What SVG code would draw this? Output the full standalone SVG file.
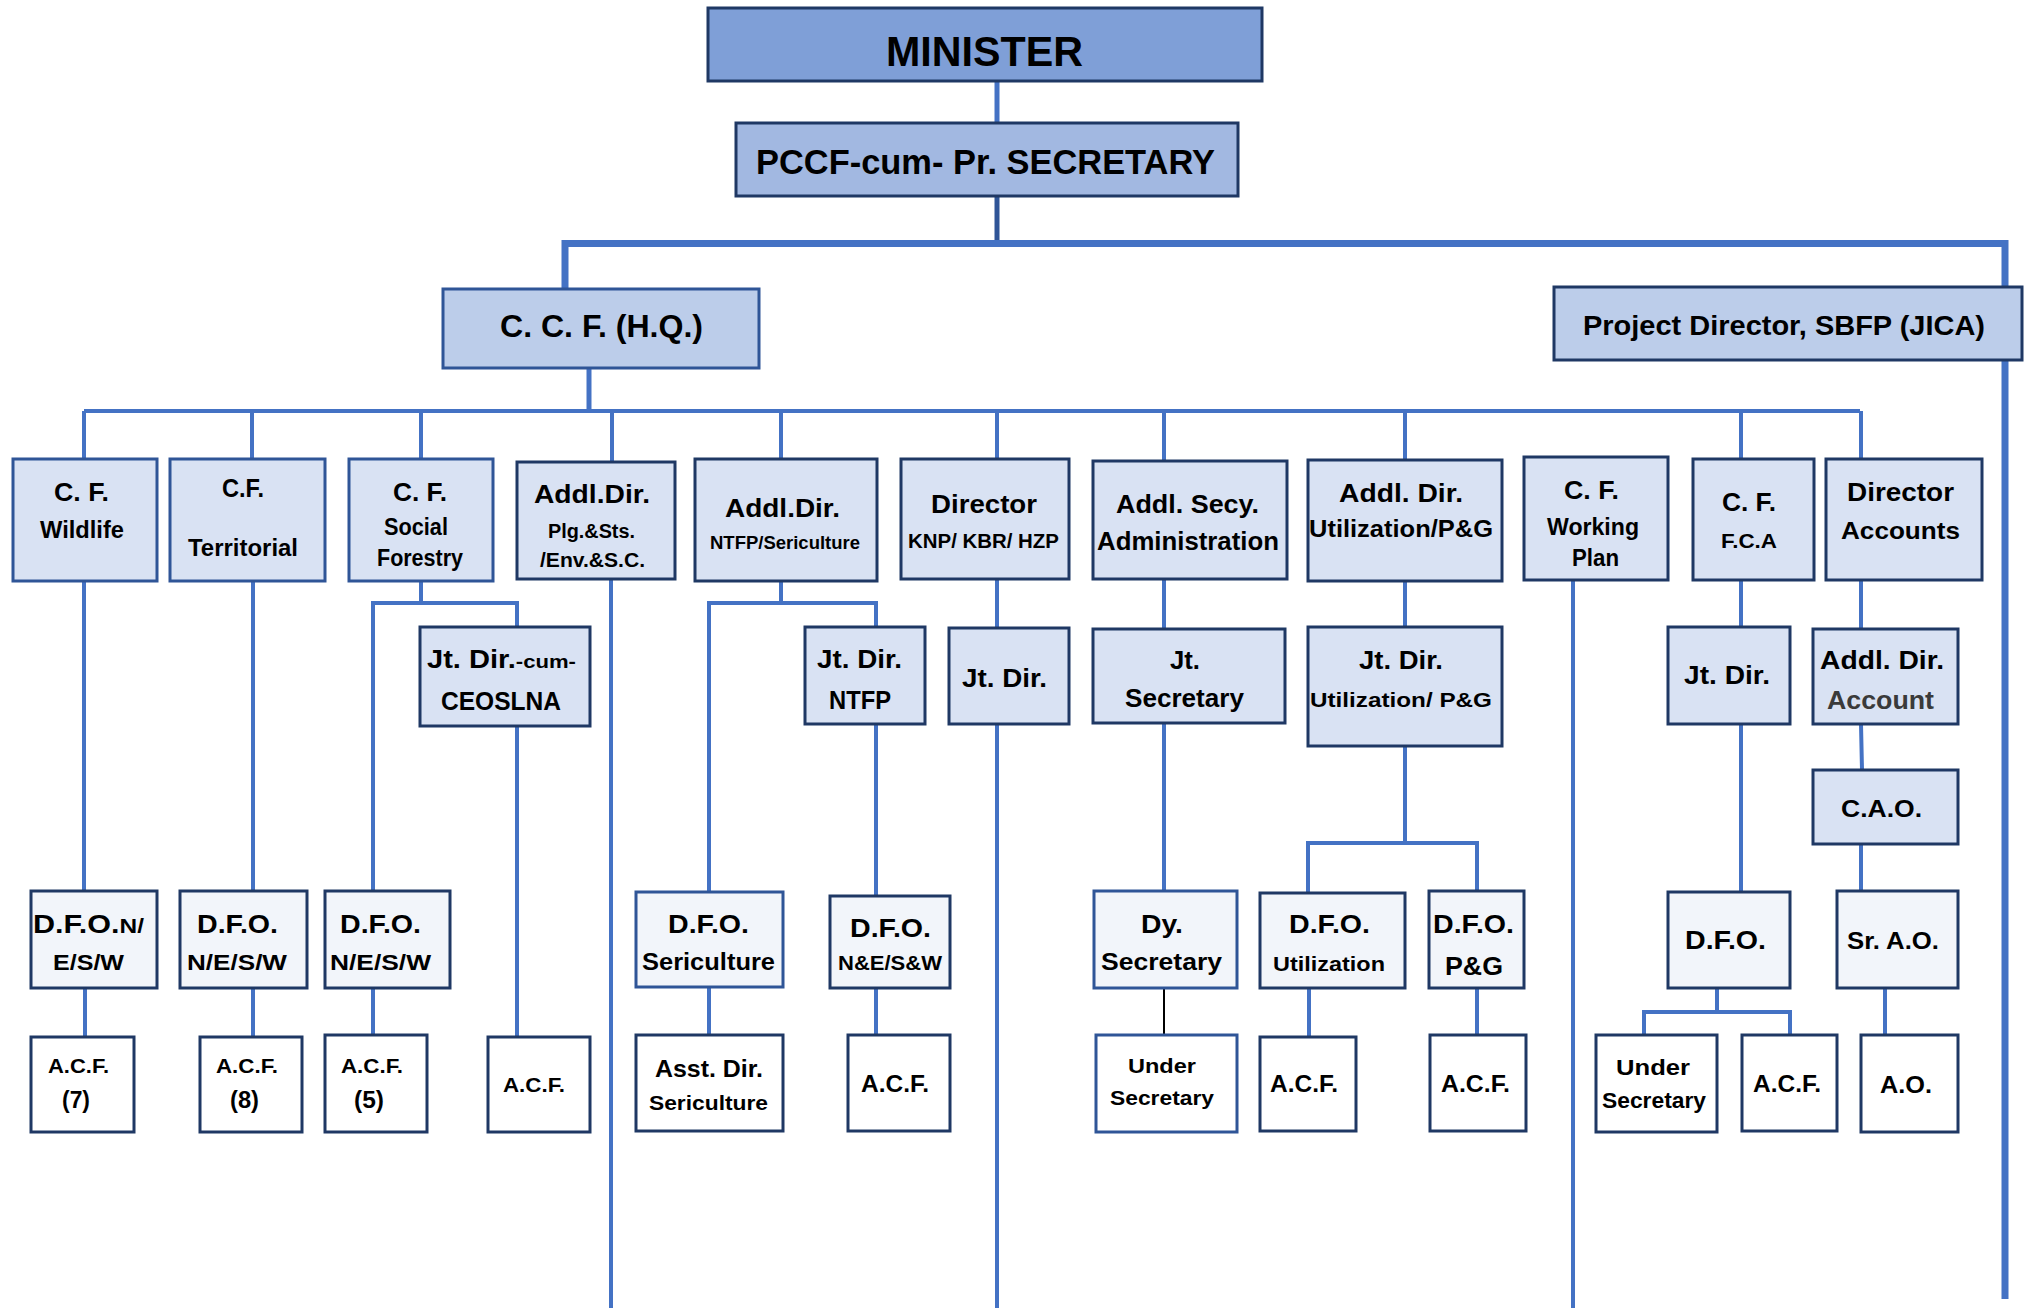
<svg xmlns="http://www.w3.org/2000/svg" width="2026" height="1308" viewBox="0 0 2026 1308">
<style>
.bx{stroke:#1f3864;stroke-width:3}
.bb{stroke:#2f5597;stroke-width:3}
.f0{fill:#7f9fd7}.f1{fill:#a2b8e1}.f2{fill:#bccdea}.f3{fill:#d9e2f3}.f4{fill:#f2f5fa}.f5{fill:#ffffff}
text{font-family:"Liberation Sans Narrow","Liberation Sans",Arial,sans-serif;font-weight:bold;fill:#000;text-anchor:middle}
.c{fill:none;stroke:#4472c4;stroke-width:4}
</style>
<rect width="2026" height="1308" fill="#ffffff"/>
<g id="connectors">
<path class="c" style="stroke-width:5" d="M997,75V123"/>
<path class="c" style="stroke-width:5;stroke:#2f5597" d="M997,196V244"/>
<path class="c" style="stroke-width:7" d="M565,289V243.5H2005V1299"/>
<path class="c" style="stroke-width:5" d="M589,366V411"/>
<path class="c" d="M84,411H1860"/>
<path class="c" d="M84,411V459M252,411V459M421,411V459M612,411V462M781,411V459M997,411V459M1164,411V461M1405,411V460M1741,411V459M1861,411V459"/>
<path class="c" d="M84,581V891M253,581V891"/>
<path class="c" d="M421,581V603M373,891V603H517V627M517,726V1037"/>
<path class="c" d="M611,579V1308"/>
<path class="c" d="M781,581V603M709,892L709,603H876V627M876,724V896"/>
<path class="c" d="M997,579V628M997,724V1308"/>
<path class="c" d="M1164,579V629M1164,723V891"/>
<path fill="none" stroke="#000" stroke-width="2" d="M1164,988V1035"/>
<path class="c" d="M1405,581V627M1405,746V843M1308,893V843H1477V891"/>
<path class="c" d="M1309,988V1037M1477,988V1035"/>
<path class="c" d="M1573,573V1308"/>
<path class="c" d="M1741,578V627M1741,724V892"/>
<path class="c" d="M1717,988V1012M1644,1035V1012H1790V1035"/>
<path class="c" d="M1861,580V629M1861,724L1862,770M1861,844V891M1885,988V1035"/>
<path class="c" d="M85,988V1037M253,988V1037M373,988V1035M709,987V1035M876,988V1035"/>
</g>
<g id="minister"><rect class="bx f0" x="708" y="8" width="554" height="73"/><text x="984.5" y="66" font-size="42" textLength="197" lengthAdjust="spacingAndGlyphs">MINISTER</text></g>
<g id="pccf"><rect class="bx f1" x="736" y="123" width="502" height="73"/><text x="985.5" y="174" font-size="35" textLength="459" lengthAdjust="spacingAndGlyphs">PCCF-cum- Pr. SECRETARY</text></g>
<g id="ccf-hq"><rect class="bb f2" x="443" y="289" width="316" height="79"/><text x="601.5" y="337" font-size="31" textLength="203" lengthAdjust="spacingAndGlyphs">C. C. F. (H.Q.)</text></g>
<g id="project-director"><rect class="bx f2" x="1554" y="287" width="468" height="73"/><text x="1784" y="335" font-size="28" textLength="402" lengthAdjust="spacingAndGlyphs">Project Director, SBFP (JICA)</text></g>

<g id="cf-wildlife"><rect class="bb f3" x="13" y="459" width="144" height="122"/><text x="81.5" y="501" font-size="25" textLength="55" lengthAdjust="spacingAndGlyphs">C. F.</text><text x="82" y="538" font-size="23" textLength="84" lengthAdjust="spacingAndGlyphs">Wildlife</text></g>
<g id="cf-territorial"><rect class="bb f3" x="170" y="459" width="155" height="122"/><text x="243" y="497" font-size="25" textLength="42" lengthAdjust="spacingAndGlyphs">C.F.</text><text x="243" y="556" font-size="23" textLength="110" lengthAdjust="spacingAndGlyphs">Territorial</text></g>
<g id="cf-social"><rect class="bb f3" x="349" y="459" width="144" height="122"/><text x="420" y="501" font-size="25" textLength="54" lengthAdjust="spacingAndGlyphs">C. F.</text><text x="416" y="535" font-size="23" textLength="64" lengthAdjust="spacingAndGlyphs">Social</text><text x="420" y="566" font-size="23" textLength="86" lengthAdjust="spacingAndGlyphs">Forestry</text></g>
<g id="addl-dir-plg"><rect class="bx f3" x="517" y="462" width="158" height="117"/><text x="592" y="503" font-size="25" textLength="116" lengthAdjust="spacingAndGlyphs">Addl.Dir.</text><text x="591.5" y="538" font-size="20" textLength="87" lengthAdjust="spacingAndGlyphs">Plg.&amp;Sts.</text><text x="592.5" y="567" font-size="20" textLength="105" lengthAdjust="spacingAndGlyphs">/Env.&amp;S.C.</text></g>
<g id="addl-dir-ntfp"><rect class="bx f3" x="695" y="459" width="182" height="122"/><text x="782.5" y="517" font-size="25" textLength="115" lengthAdjust="spacingAndGlyphs">Addl.Dir.</text><text x="785" y="549" font-size="18" textLength="150" lengthAdjust="spacingAndGlyphs">NTFP/Sericulture</text></g>
<g id="director-knp"><rect class="bx f3" x="901" y="459" width="168" height="120"/><text x="984" y="513" font-size="25" textLength="106" lengthAdjust="spacingAndGlyphs">Director</text><text x="983.5" y="548" font-size="21" textLength="151" lengthAdjust="spacingAndGlyphs">KNP/ KBR/ HZP</text></g>
<g id="addl-secy"><rect class="bx f3" x="1093" y="461" width="194" height="118"/><text x="1187.5" y="513" font-size="25" textLength="143" lengthAdjust="spacingAndGlyphs">Addl. Secy.</text><text x="1188" y="550" font-size="25" textLength="182" lengthAdjust="spacingAndGlyphs">Administration</text></g>
<g id="addl-dir-util"><rect class="bx f3" x="1308" y="460" width="194" height="121"/><text x="1401" y="502" font-size="25" textLength="124" lengthAdjust="spacingAndGlyphs">Addl. Dir.</text><text x="1401" y="537" font-size="23" textLength="184" lengthAdjust="spacingAndGlyphs">Utilization/P&amp;G</text></g>
<g id="cf-working-plan"><rect class="bx f3" x="1524" y="457" width="144" height="123"/><text x="1591.5" y="499" font-size="25" textLength="55" lengthAdjust="spacingAndGlyphs">C. F.</text><text x="1593" y="535" font-size="24" textLength="92" lengthAdjust="spacingAndGlyphs">Working</text><text x="1595.5" y="566" font-size="24" textLength="47" lengthAdjust="spacingAndGlyphs">Plan</text></g>
<g id="cf-fca"><rect class="bx f3" x="1693" y="459" width="121" height="121"/><text x="1749" y="511" font-size="25" textLength="54" lengthAdjust="spacingAndGlyphs">C. F.</text><text x="1749" y="548" font-size="21" textLength="56" lengthAdjust="spacingAndGlyphs">F.C.A</text></g>
<g id="director-accounts"><rect class="bx f3" x="1826" y="459" width="156" height="121"/><text x="1900.5" y="501" font-size="25" textLength="107" lengthAdjust="spacingAndGlyphs">Director</text><text x="1900.5" y="539" font-size="24" textLength="119" lengthAdjust="spacingAndGlyphs">Accounts</text></g>

<g id="jt-dir-ceoslna"><rect class="bx f3" x="420" y="627" width="170" height="99"/><text x="427" y="668" font-size="25" textLength="149" lengthAdjust="spacingAndGlyphs" style="text-anchor:start">Jt. Dir.<tspan font-size="19">-cum-</tspan></text><text x="501" y="710" font-size="25" textLength="120" lengthAdjust="spacingAndGlyphs">CEOSLNA</text></g>
<g id="jt-dir-ntfp"><rect class="bx f3" x="805" y="627" width="120" height="97"/><text x="859.5" y="668" font-size="25" textLength="85" lengthAdjust="spacingAndGlyphs">Jt. Dir.</text><text x="860" y="709" font-size="25" textLength="62" lengthAdjust="spacingAndGlyphs">NTFP</text></g>
<g id="jt-dir-knp"><rect class="bx f3" x="949" y="628" width="120" height="96"/><text x="1004.5" y="687" font-size="25" textLength="85" lengthAdjust="spacingAndGlyphs">Jt. Dir.</text></g>
<g id="jt-secretary"><rect class="bx f3" x="1093" y="629" width="192" height="94"/><text x="1185" y="669" font-size="25" textLength="30" lengthAdjust="spacingAndGlyphs">Jt.</text><text x="1184.5" y="707" font-size="25" textLength="119" lengthAdjust="spacingAndGlyphs">Secretary</text></g>
<g id="jt-dir-util"><rect class="bx f3" x="1308" y="627" width="194" height="119"/><text x="1401" y="669" font-size="25" textLength="84" lengthAdjust="spacingAndGlyphs">Jt. Dir.</text><text x="1401" y="707" font-size="21" textLength="182" lengthAdjust="spacingAndGlyphs">Utilization/ P&amp;G</text></g>
<g id="jt-dir-fca"><rect class="bx f3" x="1668" y="627" width="122" height="97"/><text x="1727" y="684" font-size="25" textLength="86" lengthAdjust="spacingAndGlyphs">Jt. Dir.</text></g>
<g id="addl-dir-account"><rect class="bx f3" x="1813" y="629" width="145" height="95"/><text x="1882" y="669" font-size="25" textLength="124" lengthAdjust="spacingAndGlyphs">Addl. Dir.</text><text x="1880.5" y="709" font-size="25" textLength="107" lengthAdjust="spacingAndGlyphs" style="fill:#3a3a3a">Account</text></g>
<g id="cao"><rect class="bx f3" x="1813" y="770" width="145" height="74"/><text x="1881.5" y="817" font-size="24" textLength="81" lengthAdjust="spacingAndGlyphs">C.A.O.</text></g>

<g id="dfo-wildlife"><rect class="bx f4" x="31" y="891" width="126" height="97"/><text x="33" y="933" font-size="25" textLength="111" lengthAdjust="spacingAndGlyphs" style="text-anchor:start">D.F.O.<tspan font-size="20">N/</tspan></text><text x="88.5" y="970" font-size="22" textLength="71" lengthAdjust="spacingAndGlyphs">E/S/W</text></g>
<g id="dfo-territorial"><rect class="bx f4" x="180" y="891" width="127" height="97"/><text x="237.5" y="933" font-size="25" textLength="81" lengthAdjust="spacingAndGlyphs">D.F.O.</text><text x="237" y="970" font-size="22" textLength="100" lengthAdjust="spacingAndGlyphs">N/E/S/W</text></g>
<g id="dfo-social"><rect class="bx f4" x="325" y="891" width="125" height="97"/><text x="380.5" y="933" font-size="25" textLength="81" lengthAdjust="spacingAndGlyphs">D.F.O.</text><text x="380.5" y="970" font-size="22" textLength="101" lengthAdjust="spacingAndGlyphs">N/E/S/W</text></g>
<g id="dfo-sericulture"><rect class="bb f4" x="636" y="892" width="147" height="95"/><text x="708.5" y="933" font-size="25" textLength="81" lengthAdjust="spacingAndGlyphs">D.F.O.</text><text x="708.5" y="970" font-size="23" textLength="133" lengthAdjust="spacingAndGlyphs">Sericulture</text></g>
<g id="dfo-ntfp"><rect class="bx f4" x="830" y="896" width="120" height="92"/><text x="890.5" y="937" font-size="25" textLength="81" lengthAdjust="spacingAndGlyphs">D.F.O.</text><text x="890" y="970" font-size="20" textLength="104" lengthAdjust="spacingAndGlyphs">N&amp;E/S&amp;W</text></g>
<g id="dy-secretary"><rect class="bb f4" x="1094" y="891" width="143" height="97"/><text x="1162" y="933" font-size="25" textLength="42" lengthAdjust="spacingAndGlyphs">Dy.</text><text x="1161.5" y="970" font-size="24" textLength="121" lengthAdjust="spacingAndGlyphs">Secretary</text></g>
<g id="dfo-utilization"><rect class="bx f4" x="1260" y="893" width="145" height="95"/><text x="1329.5" y="933" font-size="25" textLength="81" lengthAdjust="spacingAndGlyphs">D.F.O.</text><text x="1329" y="971" font-size="20" textLength="112" lengthAdjust="spacingAndGlyphs">Utilization</text></g>
<g id="dfo-pg"><rect class="bx f4" x="1429" y="891" width="95" height="97"/><text x="1473.5" y="933" font-size="25" textLength="81" lengthAdjust="spacingAndGlyphs">D.F.O.</text><text x="1474" y="975" font-size="25" textLength="58" lengthAdjust="spacingAndGlyphs">P&amp;G</text></g>
<g id="dfo-fca"><rect class="bx f4" x="1668" y="892" width="122" height="96"/><text x="1725.5" y="949" font-size="25" textLength="81" lengthAdjust="spacingAndGlyphs">D.F.O.</text></g>
<g id="sr-ao"><rect class="bx f4" x="1837" y="891" width="121" height="97"/><text x="1893" y="949" font-size="24" textLength="92" lengthAdjust="spacingAndGlyphs">Sr. A.O.</text></g>

<g id="acf-7"><rect class="bx f5" x="31" y="1037" width="103" height="95"/><text x="78.5" y="1073" font-size="21" textLength="61" lengthAdjust="spacingAndGlyphs">A.C.F.</text><text x="76" y="1108" font-size="23" textLength="28" lengthAdjust="spacingAndGlyphs">(7)</text></g>
<g id="acf-8"><rect class="bx f5" x="200" y="1037" width="102" height="95"/><text x="247" y="1073" font-size="21" textLength="62" lengthAdjust="spacingAndGlyphs">A.C.F.</text><text x="244.5" y="1108" font-size="23" textLength="29" lengthAdjust="spacingAndGlyphs">(8)</text></g>
<g id="acf-5"><rect class="bx f5" x="325" y="1035" width="102" height="97"/><text x="372" y="1073" font-size="21" textLength="62" lengthAdjust="spacingAndGlyphs">A.C.F.</text><text x="369" y="1108" font-size="23" textLength="30" lengthAdjust="spacingAndGlyphs">(5)</text></g>
<g id="acf-ceoslna"><rect class="bx f5" x="488" y="1037" width="102" height="95"/><text x="534" y="1092" font-size="21" textLength="62" lengthAdjust="spacingAndGlyphs">A.C.F.</text></g>
<g id="asst-dir-sericulture"><rect class="bx f5" x="636" y="1035" width="147" height="96"/><text x="709" y="1077" font-size="23" textLength="108" lengthAdjust="spacingAndGlyphs">Asst. Dir.</text><text x="708.5" y="1110" font-size="21" textLength="119" lengthAdjust="spacingAndGlyphs">Sericulture</text></g>
<g id="acf-ntfp"><rect class="bx f5" x="848" y="1035" width="102" height="96"/><text x="895" y="1092" font-size="24" textLength="68" lengthAdjust="spacingAndGlyphs">A.C.F.</text></g>
<g id="under-secretary-admin"><rect class="bb f5" x="1096" y="1035" width="141" height="97"/><text x="1162" y="1073" font-size="21" textLength="68" lengthAdjust="spacingAndGlyphs">Under</text><text x="1162" y="1105" font-size="21" textLength="104" lengthAdjust="spacingAndGlyphs">Secretary</text></g>
<g id="acf-utilization"><rect class="bx f5" x="1260" y="1037" width="96" height="94"/><text x="1304" y="1092" font-size="24" textLength="68" lengthAdjust="spacingAndGlyphs">A.C.F.</text></g>
<g id="acf-pg"><rect class="bx f5" x="1430" y="1035" width="96" height="96"/><text x="1475.5" y="1092" font-size="24" textLength="69" lengthAdjust="spacingAndGlyphs">A.C.F.</text></g>
<g id="under-secretary-fca"><rect class="bx f5" x="1596" y="1035" width="121" height="97"/><text x="1653" y="1075" font-size="22" textLength="74" lengthAdjust="spacingAndGlyphs">Under</text><text x="1654" y="1108" font-size="22" textLength="104" lengthAdjust="spacingAndGlyphs">Secretary</text></g>
<g id="acf-fca"><rect class="bx f5" x="1742" y="1035" width="95" height="96"/><text x="1787" y="1092" font-size="24" textLength="68" lengthAdjust="spacingAndGlyphs">A.C.F.</text></g>
<g id="ao"><rect class="bx f5" x="1861" y="1035" width="97" height="97"/><text x="1906" y="1093" font-size="24" textLength="52" lengthAdjust="spacingAndGlyphs">A.O.</text></g>
</svg>
